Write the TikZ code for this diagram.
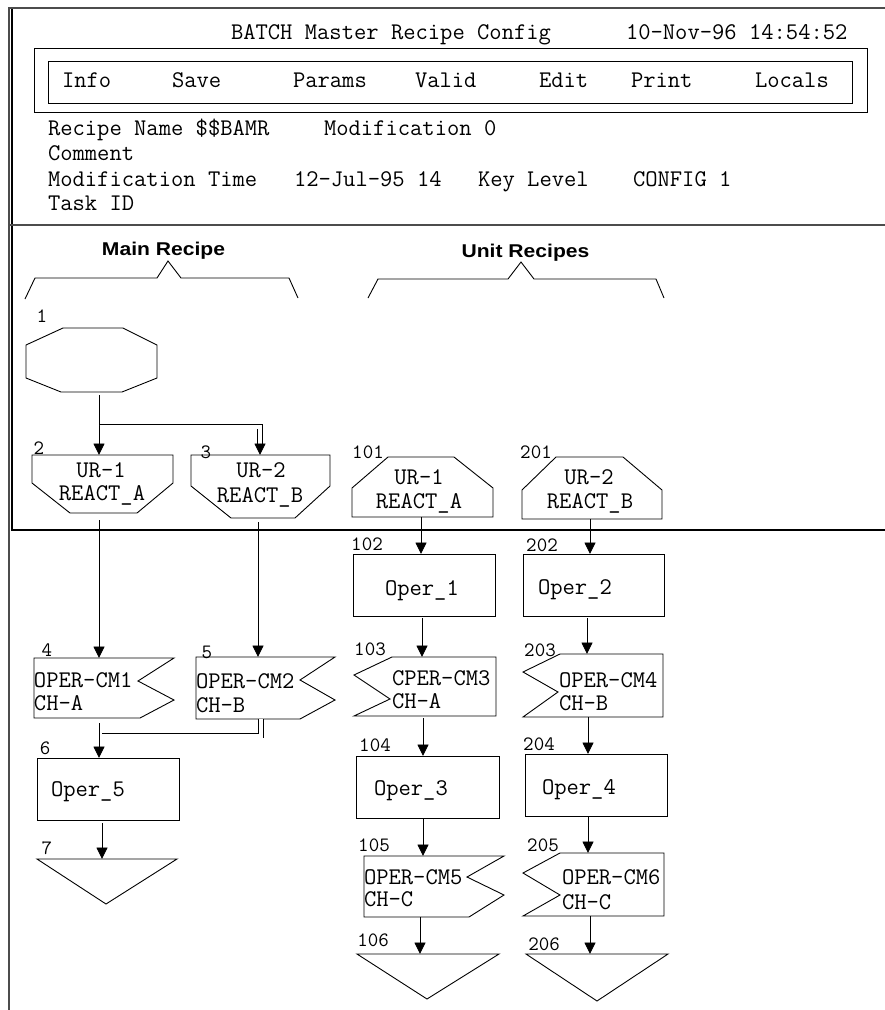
\documentclass[tikz,border=0pt]{standalone}
\usepackage{fontspec}
\usetikzlibrary{arrows.meta}
\newfontfamily\sansfnt{Liberation Sans}

\begin{document}
\begin{tikzpicture}[x=1pt,y=-1pt,
  every node/.style={inner sep=0pt,outer sep=0pt},
  txt/.style={font=\ttfamily\fontsize{23.9}{24}\selectfont,text height=14.6pt,text depth=0pt,anchor=west},
  ctxt/.style={txt,anchor=center},
  num/.style={font=\ttfamily\fontsize{20.4}{21}\selectfont,text height=12.5pt,text depth=0pt,anchor=center},
  ttl/.style={font=\sansfnt\bfseries\fontsize{18.5}{18.5}\selectfont,text height=12.7pt,text depth=0pt,anchor=center},
  frame/.style 2 args={minimum width=#1pt,minimum height=#2pt,anchor=north west},
  shp/.style={draw=black,line width=0.9pt,line join=miter},
  opbox/.style 2 args={frame={#1}{#2},draw=black,line width=0.9pt},
  arr/.style={draw=black,line width=0.9pt,-{Triangle[length=11.5pt,width=11pt]}},
  dbl/.style={draw=black,line width=0.9pt,double=white,double distance=4pt},
  menu/.style={draw=black,line width=0.9pt},
  brace/.style={draw=black,line width=0.9pt,line join=miter},
]
\fill[white] (0,0) rectangle (885,1010);
\useasboundingbox (0,0) rectangle (885,1010);

% ---------- screen frame ----------
\draw[gray!60!black,line width=2pt] (8,8) -- (885,8);
\draw[gray!60!black,line width=1.3pt] (9,8) -- (9,1010);
\draw[black,line width=1.1pt] (12,9) -- (12,530) -- (885,530);
\draw[gray!60!black,line width=1.8pt] (8,225) -- (885,225);

% ---------- header ----------
\node[txt] (title) at (231,32) {BATCH Master Recipe Config};
\node[txt] (date) at (626,32) {10-Nov-96 14:54:52};

\node[menu,frame={833}{64}] (menuout) at (34,48) {};
\node[menu,frame={804}{42}] (menuin) at (48,61) {};
\node[txt] (mInfo) at (62,80) {Info};
\node[txt] (mSave) at (172,80) {Save};
\node[txt] (mParams) at (293,80) {Params};
\node[txt] (mValid) at (415,80) {Valid};
\node[txt] (mEdit) at (539,80) {Edit};
\node[txt] (mPrint) at (631,80) {Print};
\node[txt] (mLocals) at (755,80) {Locals};

\node[txt] (rname) at (48,128) {Recipe Name \$\$BAMR};
\node[txt] (rmod) at (324,128) {Modification 0};
\node[txt] (rcom) at (48,153) {Comment};
\node[txt] (rtime) at (48,179) {Modification Time};
\node[txt] (rdate) at (294,179) {12-Jul-95 14};
\node[txt] (rkey) at (478,179) {Key Level};
\node[txt] (rcfg) at (633,179) {CONFIG 1};
\node[txt] (rtask) at (48,203) {Task ID};

% ---------- section titles and braces ----------
\node[ttl] (mainttl) at (163.5,249) {\scalebox{1.14}[1]{Main Recipe}};
\node[ttl] (unitttl) at (525.5,251) {\scalebox{1.14}[1]{Unit Recipes}};
\draw[brace] (25,299) -- (35,278) -- (157,278) -- (168,261) -- (181,278) -- (289,278) -- (298,298);
\draw[brace] (368,298) -- (378,279) -- (508,279) -- (521,262) -- (534,279) -- (656,279) -- (664,298);

% ---------- main recipe ----------
\node[frame={131}{64}] (n1) at (26,328) {};
\draw[shp,shift={(n1.north west)}] (37,0) -- (97,0) -- (131,17) -- (131,50) -- (96,64) -- (35,64) -- (0,50) -- (0,17) -- cycle;
\node[num] (l1) at (42,316) {1};

\node[frame={141}{58}] (n2) at (32,455) {};
\draw[shp,shift={(n2.north west)}] (0,0) -- (141,0) -- (141,28) -- (105,58) -- (38,58) -- (0,28) -- cycle;
\node[ctxt] (t2a) at (101,470) {UR-1};
\node[ctxt] (t2b) at (102,493) {REACT\_A};
\node[num] (l2) at (39,448) {2};

\node[frame={139}{63}] (n3) at (191,455) {};
\draw[shp,shift={(n3.north west)}] (0,0) -- (139,0) -- (139,31) -- (104,63) -- (40,63) -- (0,31) -- cycle;
\node[ctxt] (t3a) at (261,470) {UR-2};
\node[ctxt] (t3b) at (260,495) {REACT\_B};
\node[num] (l3) at (206,452) {3};

\node[frame={140}{60}] (n4) at (34,658) {};
\draw[shp,shift={(n4.north west)}] (0,0) -- (140,0) -- (104,23) -- (140,42) -- (106,60) -- (0,60) -- cycle;
\node[txt] (t4a) at (34,680) {OPER-CM1};
\node[txt] (t4b) at (34,703) {CH-A};
\node[num] (l4) at (47,650) {4};

\node[frame={139}{62}] (n5) at (196,657) {};
\draw[shp,shift={(n5.north west)}] (0,0) -- (139,0) -- (104,23) -- (139,43) -- (104,62) -- (0,62) -- cycle;
\node[txt] (t5a) at (196,681) {OPER-CM2};
\node[txt] (t5b) at (196,705) {CH-B};
\node[num] (l5) at (207,652) {5};

\node[opbox={142}{62}] (n6) at (37,758) {};
\node[txt] (t6) at (51,789) {Oper\_5};
\node[num] (l6) at (45,748) {6};

\node[frame={140}{45}] (n7) at (37,859) {};
\draw[shp,shift={(n7.north west)}] (0,0) -- (140,0) -- (69,45) -- cycle;
\node[num] (l7) at (47,848) {7};

% main recipe connectors
\draw[arr] ([xshift=7.5pt,yshift=-3pt]n1.south) -- ([xshift=-3.5pt]n2.north);
\coordinate (s1) at ([xshift=8pt,yshift=-34.5pt]n1.south);
\coordinate (e3) at ([xshift=-0.5pt,yshift=11.5pt]n3.north);
\draw[dbl] (s1) -| (e3);
\draw[arr] (e3) -- ([xshift=-0.5pt]n3.north);
\draw[arr] ([xshift=-3.5pt,yshift=-7pt]n2.south) -- ([xshift=-5pt]n4.north);
\draw[arr] ([xshift=-2.5pt,yshift=-4pt]n3.south) -- ([xshift=-7.5pt]n5.north);
\draw[arr] ([xshift=-5pt,yshift=-5pt]n4.south) -- ([xshift=-9pt]n6.north);
\coordinate (s5) at ([xshift=-4.5pt]n5.south);
\coordinate (e4) at ([xshift=-2.5pt,yshift=-17.5pt]n4.south);
\draw[dbl] (s5) |- (e4);
\draw[arr] ([xshift=-6pt,yshift=-3pt]n6.south) -- ([xshift=-5pt]n7.north);

% ---------- unit recipe 1 ----------
\node[frame={141}{60}] (n101) at (352,457) {};
\draw[shp,shift={(n101.north west)}] (0,31) -- (36,0) -- (102,0) -- (141,31) -- (141,60) -- (0,60) -- cycle;
\node[ctxt] (t101a) at (419,477) {UR-1};
\node[ctxt] (t101b) at (419,501) {REACT\_A};
\node[num] (l101) at (368,452) {101};

\node[opbox={142}{62}] (n102) at (353,554) {};
\node[txt] (t102) at (385,588) {Oper\_1};
\node[num] (l102) at (367,544) {102};

\node[frame={142}{59}] (n103) at (354,657) {};
\draw[shp,shift={(n103.north west)}] (38,0) -- (142,0) -- (142,59) -- (0,59) -- (36,42) -- (0,18) -- cycle;
\node[txt] (t103a) at (392,678) {CPER-CM3};
\node[txt] (t103b) at (392,701) {CH-A};
\node[num] (l103) at (370,649) {103};

\node[opbox={143}{62}] (n104) at (356,756) {};
\node[txt] (t104) at (374,788) {Oper\_3};
\node[num] (l104) at (375,745) {104};

\node[frame={140}{61}] (n105) at (364,856) {};
\draw[shp,shift={(n105.north west)}] (0,0) -- (140,0) -- (103,21) -- (140,39) -- (105,61) -- (0,61) -- cycle;
\node[txt] (t105a) at (364,877) {OPER-CM5};
\node[txt] (t105b) at (364,899) {CH-C};
\node[num] (l105) at (374,845) {105};

\node[frame={142}{45}] (n106) at (357,954) {};
\draw[shp,shift={(n106.north west)}] (0,0) -- (142,0) -- (70,45) -- cycle;
\node[num] (l106) at (373,940) {106};

\draw[arr] ([xshift=-1.5pt]n101.south) -- ([xshift=-3pt]n102.north);
\draw[arr] ([xshift=-2pt,yshift=-2pt]n102.south) -- ([xshift=-3pt]n103.north);
\draw[arr] ([xshift=-2pt,yshift=-2pt]n103.south) -- ([xshift=-4.5pt]n104.north);
\draw[arr] ([xshift=-4.5pt]n104.south) -- ([xshift=-11pt]n105.north);
\draw[arr] ([xshift=-14pt]n105.south) -- ([xshift=-8pt]n106.north);

% ---------- unit recipe 2 ----------
\node[frame={140}{62}] (n201) at (522,457) {};
\draw[shp,shift={(n201.north west)}] (0,33) -- (34,0) -- (101,0) -- (140,33) -- (140,62) -- (0,62) -- cycle;
\node[ctxt] (t201a) at (589,477) {UR-2};
\node[ctxt] (t201b) at (590,501) {REACT\_B};
\node[num] (l201) at (536,452) {201};

\node[opbox={141}{62}] (n202) at (523,554) {};
\node[txt] (t202) at (538,587) {Oper\_2};
\node[num] (l202) at (542,545) {202};

\node[frame={140}{63}] (n203) at (523,654) {};
\draw[shp,shift={(n203.north west)}] (37,0) -- (140,0) -- (140,63) -- (0,63) -- (35,38) -- (0,18) -- cycle;
\node[txt] (t203a) at (559,680) {OPER-CM4};
\node[txt] (t203b) at (559,703) {CH-B};
\node[num] (l203) at (540,650) {203};

\node[opbox={142}{62}] (n204) at (525,754) {};
\node[txt] (t204) at (542,787) {Oper\_4};
\node[num] (l204) at (539,744) {204};

\node[frame={141}{63}] (n205) at (523,853) {};
\draw[shp,shift={(n205.north west)}] (37,0) -- (141,0) -- (141,63) -- (0,63) -- (37,42) -- (0,20) -- cycle;
\node[txt] (t205a) at (562,877) {OPER-CM6};
\node[txt] (t205b) at (562,902) {CH-C};
\node[num] (l205) at (543,845) {205};

\node[frame={142}{47}] (n206) at (526,954) {};
\draw[shp,shift={(n206.north west)}] (0,0) -- (142,0) -- (71,47) -- cycle;
\node[num] (l206) at (544,944) {206};

\draw[arr] ([xshift=-2pt]n201.south) -- ([xshift=-3.5pt]n202.north);
\draw[arr] ([xshift=-6.5pt,yshift=-2pt]n202.south) -- ([xshift=-6pt]n203.north);
\draw[arr] ([xshift=-5pt]n203.south) -- ([xshift=-8pt]n204.north);
\draw[arr] ([xshift=-8pt,yshift=-1pt]n204.south) -- ([xshift=-5.5pt]n205.north);
\draw[arr] ([xshift=-3.5pt]n205.south) -- ([xshift=-7pt]n206.north);
\end{tikzpicture}
\end{document}
